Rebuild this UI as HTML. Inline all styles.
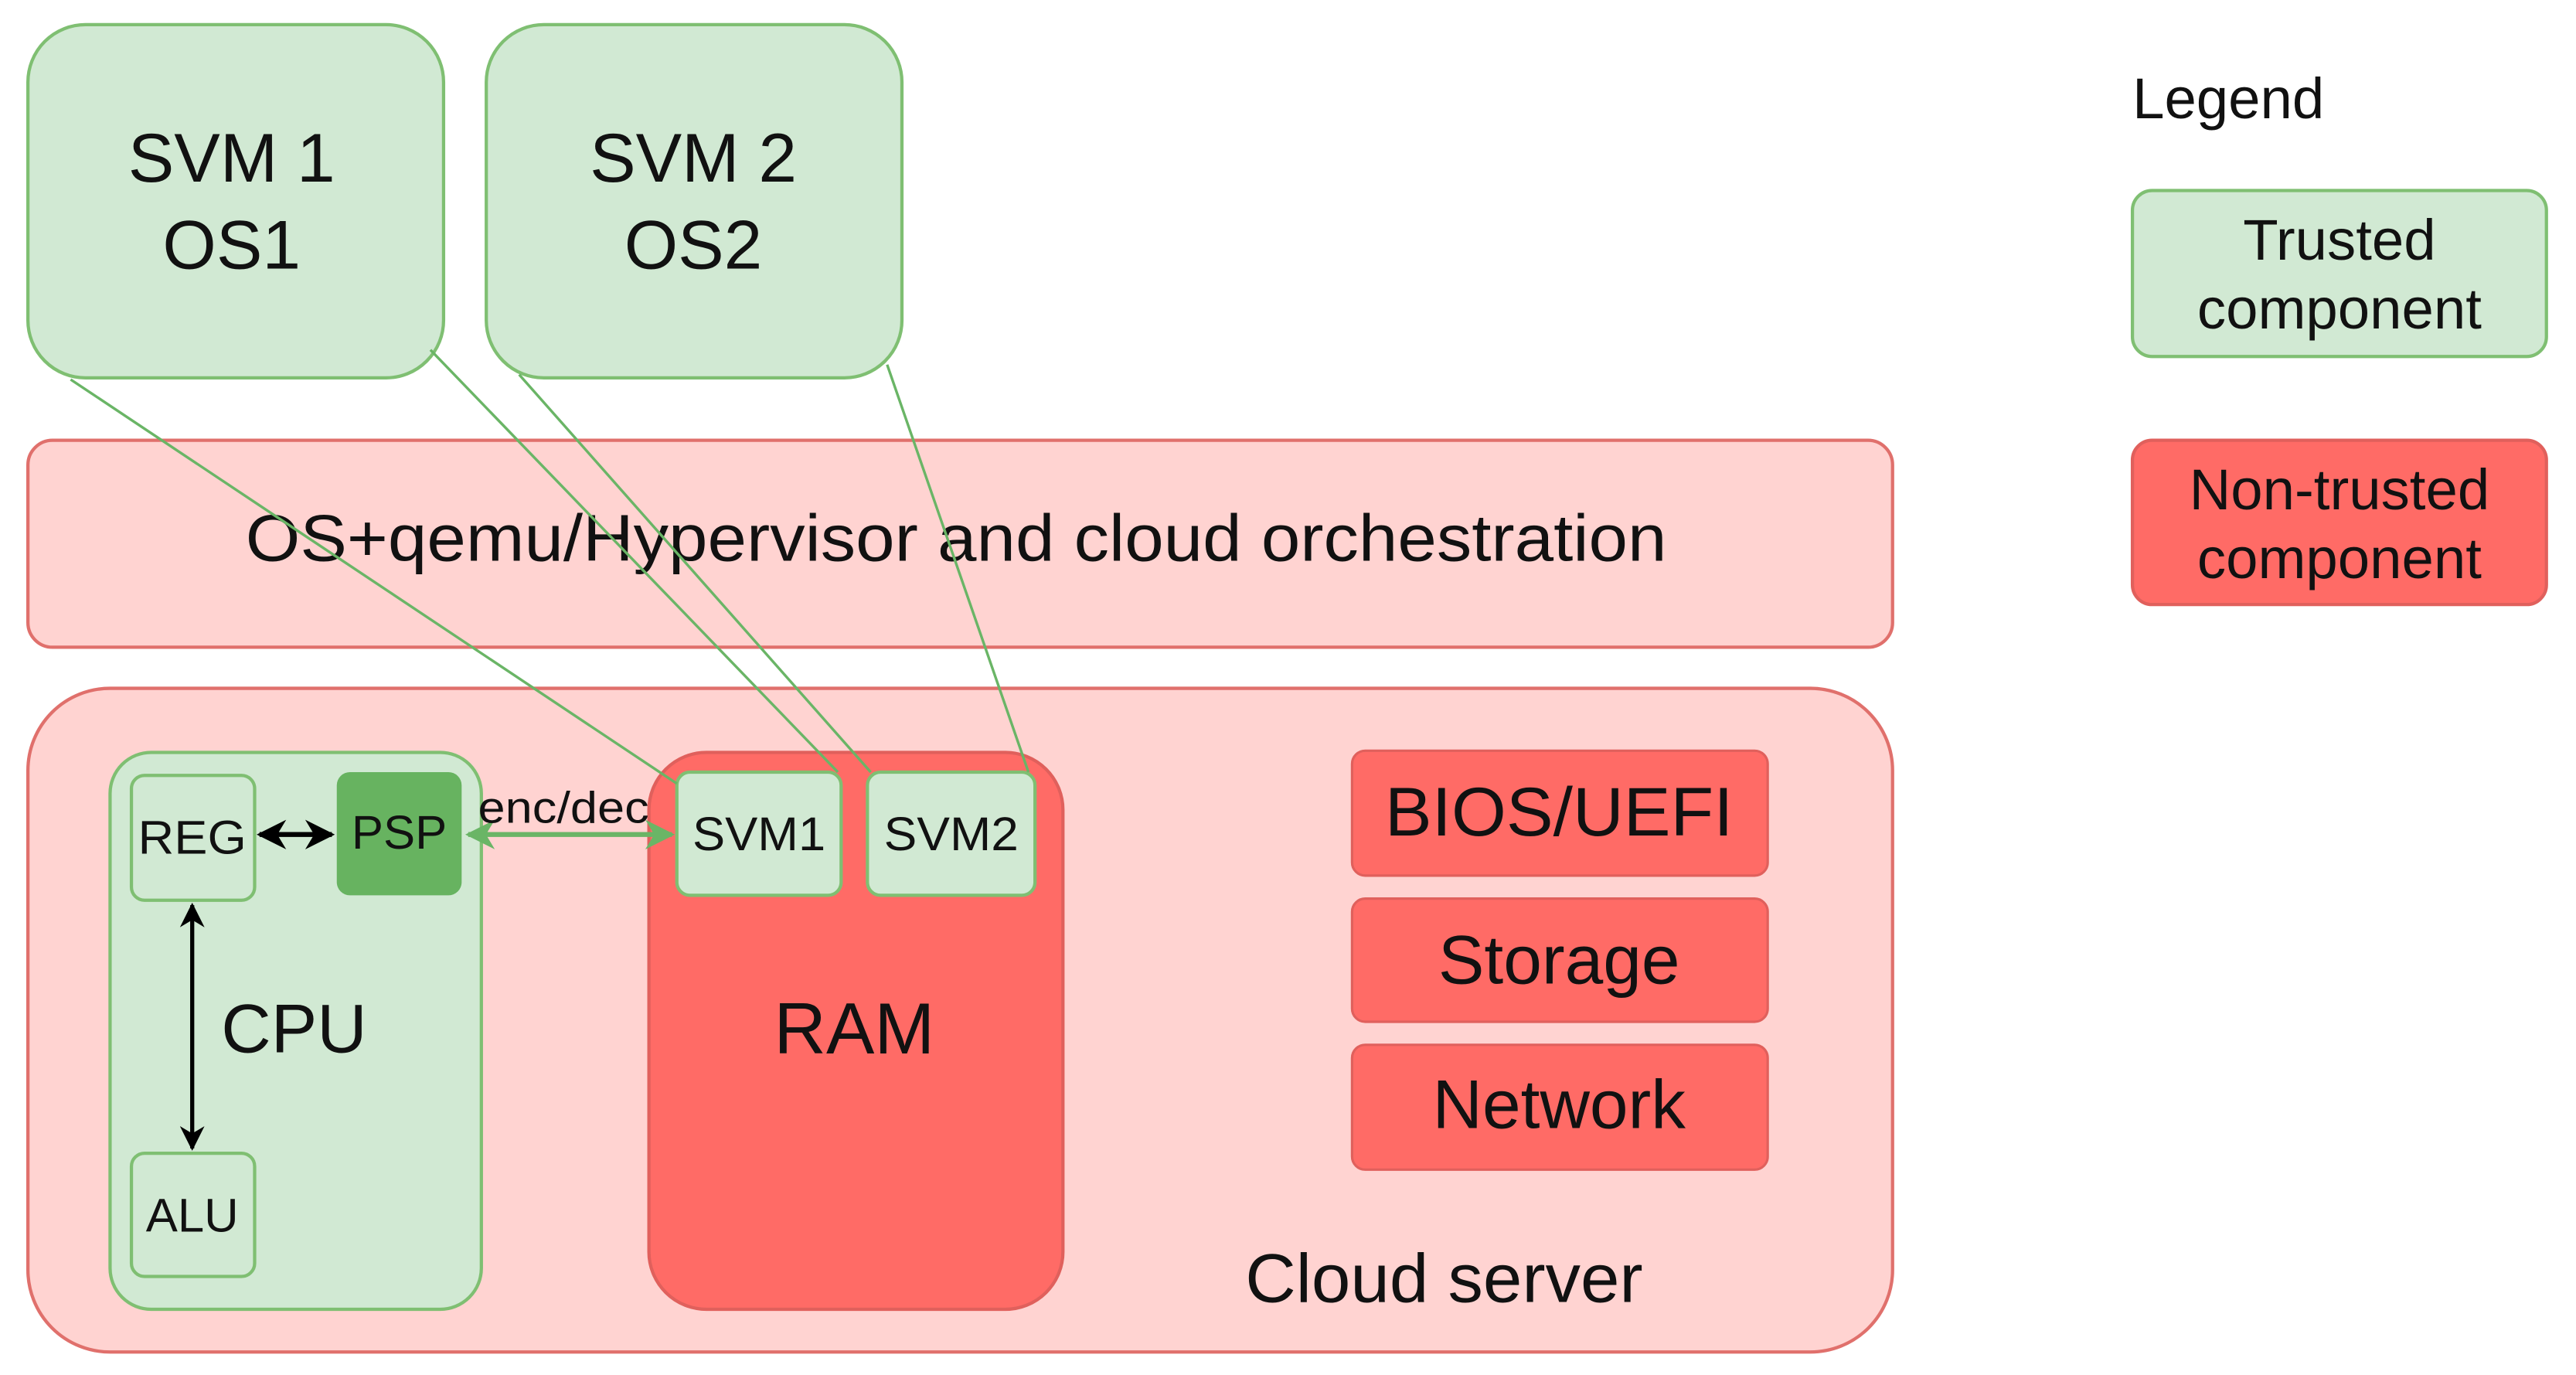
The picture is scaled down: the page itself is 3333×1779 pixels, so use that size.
<!DOCTYPE html>
<html><head><meta charset="utf-8"><style>
html,body{margin:0;padding:0;background:#fff;width:3333px;height:1779px;overflow:hidden}
svg{display:block}
text{font-family:"Liberation Sans",Arial,sans-serif;fill:#111;text-anchor:middle;dominant-baseline:central}
</style></head><body>
<svg width="3333" height="1779" viewBox="0 0 1568 837" preserveAspectRatio="none" xmlns="http://www.w3.org/2000/svg">
<defs>
<marker id="bk" viewBox="0 0 10 10" refX="9" refY="5" markerWidth="6" markerHeight="6" orient="auto-start-reverse"><path d="M0,0L10,5L0,10L3,5z" fill="#000"/></marker>
<marker id="gr" viewBox="0 0 10 10" refX="9" refY="5" markerWidth="6" markerHeight="6" orient="auto-start-reverse"><path d="M0,0L10,5L0,10L3,5z" fill="#6ab566"/></marker>
</defs>
<rect x="17" y="15" width="253" height="215" rx="35" fill="#d1e9d3" stroke="#7fbf72" stroke-width="2"/>
<text x="141" y="96" font-size="42">SVM 1</text>
<text x="141" y="149" font-size="42">OS1</text>
<rect x="296" y="15" width="253" height="215" rx="35" fill="#d1e9d3" stroke="#7fbf72" stroke-width="2"/>
<text x="422" y="96" font-size="42">SVM 2</text>
<text x="422" y="149" font-size="42">OS2</text>
<rect x="17" y="268" width="1135" height="126" rx="15" fill="#ffd3d1" stroke="#e0706c" stroke-width="2"/>
<text x="582" y="328" font-size="40" textLength="865" lengthAdjust="spacingAndGlyphs">OS+qemu/Hypervisor and cloud orchestration</text>
<rect x="17" y="419" width="1135" height="404" rx="50" fill="#ffd3d1" stroke="#e0706c" stroke-width="2"/>
<text x="879" y="778" font-size="42" textLength="242" lengthAdjust="spacingAndGlyphs">Cloud server</text>
<rect x="67" y="458" width="226" height="339" rx="25" fill="#d1e9d3" stroke="#7fbf72" stroke-width="2"/>
<text x="179" y="626" font-size="42">CPU</text>
<rect x="80" y="472" width="75" height="76" rx="8" fill="#d1e9d3" stroke="#7fbf72" stroke-width="2"/>
<text x="117" y="510" font-size="29" textLength="66" lengthAdjust="spacingAndGlyphs">REG</text>
<rect x="205" y="470" width="76" height="75" rx="8" fill="#67b360"/>
<text x="243" y="507" font-size="29">PSP</text>
<rect x="80" y="702" width="75" height="75" rx="8" fill="#d1e9d3" stroke="#7fbf72" stroke-width="2"/>
<text x="117" y="740" font-size="29">ALU</text>
<line x1="117" y1="551" x2="117" y2="699" stroke="#000" stroke-width="2.5" marker-start="url(#bk)" marker-end="url(#bk)"/>
<line x1="158" y1="508" x2="202" y2="508" stroke="#000" stroke-width="3" marker-start="url(#bk)" marker-end="url(#bk)"/>
<rect x="395" y="458" width="252" height="339" rx="35" fill="#ff6b66" stroke="#e0605c" stroke-width="2"/>
<text x="520" y="626" font-size="44">RAM</text>
<rect x="412" y="470" width="100" height="75" rx="8" fill="#d1e9d3" stroke="#7fbf72" stroke-width="2"/>
<text x="462" y="508" font-size="29" textLength="81" lengthAdjust="spacingAndGlyphs">SVM1</text>
<rect x="528" y="470" width="102" height="75" rx="8" fill="#d1e9d3" stroke="#7fbf72" stroke-width="2"/>
<text x="579" y="508" font-size="29" textLength="82" lengthAdjust="spacingAndGlyphs">SVM2</text>
<line x1="285" y1="508" x2="409" y2="508" stroke="#6ab566" stroke-width="3" marker-start="url(#gr)" marker-end="url(#gr)"/>
<text x="343" y="492" font-size="27" textLength="104" lengthAdjust="spacingAndGlyphs">enc/dec</text>
<g stroke="#6ab566" stroke-width="1.6" fill="none">
<line x1="43" y1="231" x2="412" y2="477"/>
<line x1="262" y1="213" x2="510" y2="470"/>
<line x1="316" y1="228" x2="530" y2="470"/>
<line x1="540" y1="222" x2="626" y2="470"/>
</g>
<rect x="823" y="457" width="253" height="76" rx="8" fill="#ff6b66" stroke="#e0605c" stroke-width="1.5"/>
<text x="949" y="494" font-size="42" textLength="212" lengthAdjust="spacingAndGlyphs">BIOS/UEFI</text>
<rect x="823" y="547" width="253" height="75" rx="8" fill="#ff6b66" stroke="#e0605c" stroke-width="1.5"/>
<text x="949" y="584" font-size="42">Storage</text>
<rect x="823" y="636" width="253" height="76" rx="8" fill="#ff6b66" stroke="#e0605c" stroke-width="1.5"/>
<text x="949" y="672" font-size="42">Network</text>
<text x="1298" y="60" font-size="35" style="text-anchor:start">Legend</text>
<rect x="1298" y="116" width="252" height="101" rx="12" fill="#d1e9d3" stroke="#7fbf72" stroke-width="2"/>
<text x="1424" y="146" font-size="35">Trusted</text>
<text x="1424" y="188" font-size="35">component</text>
<rect x="1298" y="268" width="252" height="100" rx="12" fill="#ff6b66" stroke="#e0605c" stroke-width="2"/>
<text x="1424" y="298" font-size="35">Non-trusted</text>
<text x="1424" y="340" font-size="35">component</text>
</svg>
</body></html>
